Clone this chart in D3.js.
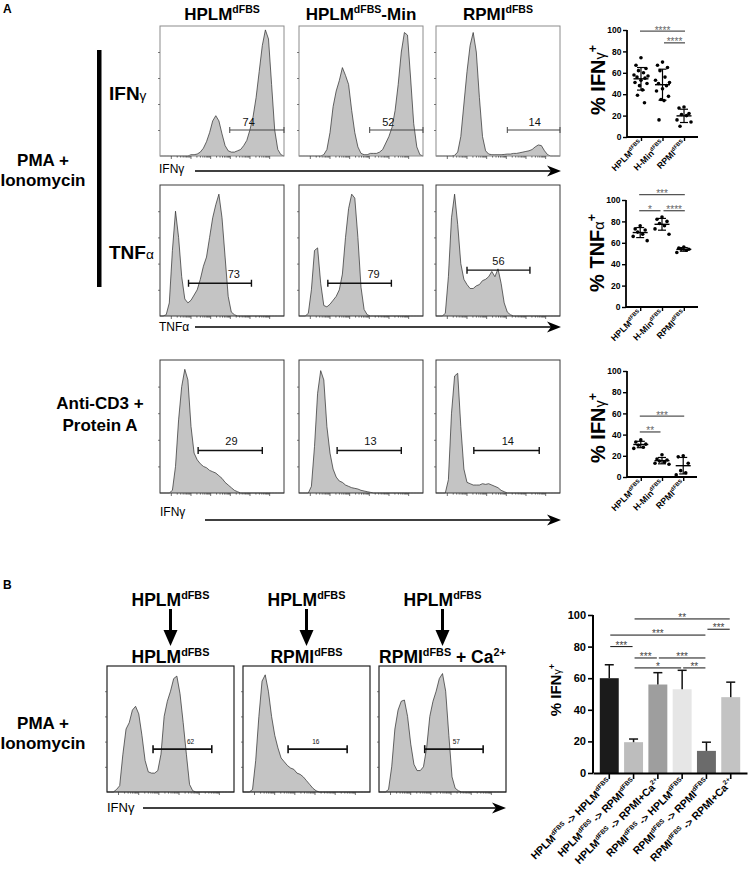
<!DOCTYPE html>
<html><head><meta charset="utf-8">
<script src="https://cdn.jsdelivr.net/npm/d3@7"></script>
<style>body{margin:0;background:#fff}svg{display:block;font-family:Arial,"Liberation Sans",sans-serif}</style>
</head><body><svg id="c" width="750" height="878"></svg>
<script>
// ---------------- DATA ----------------
// Histogram traces (fraction of max count, 41 equally spaced channels across the display range)
const histIFN_PMA_HPLM = [0,0,0,0,0,0,0,0,0,0,0.01,0.01,0.015,0.03,0.06,0.11,0.18,0.27,0.31,0.27,0.17,0.08,0.04,0.03,0.03,0.04,0.05,0.08,0.12,0.2,0.3,0.45,0.65,0.85,0.97,0.9,0.55,0.2,0.05,0.01,0];
const histIFN_PMA_HMin = [0,0,0,0,0,0,0,0,0.01,0.05,0.18,0.38,0.5,0.58,0.68,0.62,0.55,0.35,0.18,0.07,0.02,0.01,0.01,0.02,0.02,0.02,0.03,0.05,0.1,0.15,0.22,0.35,0.55,0.8,0.95,0.93,0.6,0.25,0.07,0.01,0];
const histIFN_PMA_RPMI = [0,0,0,0,0,0,0.005,0.03,0.15,0.4,0.65,0.85,0.95,0.8,0.45,0.15,0.04,0.015,0.01,0.01,0.01,0.01,0.012,0.015,0.015,0.02,0.02,0.025,0.03,0.035,0.04,0.05,0.07,0.085,0.08,0.04,0.01,0,0,0,0];
const histTNF_PMA_HPLM = [0,0,0.01,0.1,0.5,0.8,0.6,0.3,0.13,0.1,0.12,0.16,0.2,0.28,0.38,0.45,0.6,0.75,0.85,0.93,0.75,0.45,0.15,0.03,0.01,0,0,0,0,0,0,0,0,0,0,0,0,0,0,0,0];
const histTNF_PMA_HMin = [0,0,0,0.02,0.2,0.5,0.52,0.25,0.08,0.07,0.09,0.12,0.15,0.2,0.32,0.6,0.82,0.93,0.9,0.6,0.22,0.05,0.01,0,0,0,0,0,0,0,0,0,0,0,0,0,0,0,0,0,0];
const histTNF_PMA_RPMI = [0,0,0,0.02,0.3,0.75,0.93,0.7,0.4,0.28,0.24,0.21,0.21,0.23,0.24,0.27,0.28,0.3,0.34,0.3,0.36,0.25,0.1,0.03,0.01,0,0,0,0,0,0,0,0,0,0,0,0,0,0,0,0];
const histIFN_CD3_HPLM = [0,0,0,0,0.02,0.2,0.55,0.8,0.93,0.85,0.5,0.3,0.25,0.22,0.2,0.19,0.17,0.16,0.15,0.13,0.11,0.08,0.06,0.04,0.02,0.01,0,0,0,0,0,0,0,0,0,0,0,0,0,0,0];
const histIFN_CD3_HMin = [0,0,0,0,0.05,0.35,0.75,0.92,0.85,0.5,0.3,0.18,0.12,0.09,0.08,0.06,0.05,0.04,0.035,0.03,0.02,0.015,0.01,0.005,0,0,0,0,0,0,0,0,0,0,0,0,0,0,0,0,0];
const histIFN_CD3_RPMI = [0,0,0,0,0.1,0.6,0.88,0.9,0.5,0.18,0.08,0.07,0.06,0.06,0.06,0.07,0.065,0.07,0.06,0.05,0.04,0.02,0.01,0,0,0,0,0,0,0,0,0,0,0,0,0,0,0,0,0,0];
const histB_HPLM_HPLM = [0,0,0,0.02,0.05,0.3,0.5,0.55,0.65,0.68,0.62,0.45,0.25,0.16,0.15,0.15,0.17,0.3,0.6,0.72,0.8,0.9,0.92,0.78,0.55,0.3,0.06,0.01,0,0,0,0,0,0,0,0,0,0,0,0,0];
const histB_HPLM_RPMI = [0,0,0,0.02,0.25,0.6,0.88,0.93,0.8,0.6,0.45,0.35,0.27,0.24,0.21,0.19,0.18,0.15,0.14,0.12,0.09,0.06,0.03,0.01,0,0,0,0,0,0,0,0,0,0,0,0,0,0,0,0,0];
const histB_HPLM_RPMICa = [0,0,0,0.02,0.2,0.5,0.65,0.72,0.73,0.6,0.38,0.22,0.17,0.17,0.2,0.35,0.6,0.72,0.8,0.9,0.94,0.8,0.45,0.12,0.03,0.01,0,0,0,0,0,0,0,0,0,0,0,0,0,0,0];

// gates (channel range) and gated percentages
const gatesIFN_PMA = [[22.5,40],[22.8,40],[23,40]];
const pctIFN_PMA = ["74","52","14"];
const gatesTNF_PMA = [[9.2,29.5],[9.3,29.8],[10,30.3]];
const pctTNF_PMA = ["73","79","56"];
const gatesIFN_CD3 = [[12.3,33],[12.3,33],[12.2,33.3]];
const pctIFN_CD3 = ["29","13","14"];
const gatesB = [[14.5,33],[14.2,32.8],[14.4,32.8]];
const pctB = ["62","16","57"];

// dot plots (% positive per donor)
const dotCats = ["HPLM","H-Min","RPMI"];
const ifnPMA = [
  [74,67,64,62,60,58,57,56,55,53,51,50,48,44,39,32],
  [70,67,65,62,56,53,51,50,48,45,43,38,35,34,16],
  [28,27,22,21,20,16,14,10]
];
const tnfPMA = [
  [76,73,72,70,68,66,62],
  [84,82,80,78,76,73,68],
  [56,55,54,54,53,51]
];
const ifnCD3 = [
  [35,33,31,30,28,27],
  [21,17,16,15,14,13,12],
  [20,19,13,6,4,2]
];
const sigIFN_PMA = [[0,2,"****",99],[1,2,"****",88]];
const sigTNF_PMA = [[0,2,"***",105],[0,1,"*",90],[1,2,"****",90]];
const sigIFN_CD3 = [[0,2,"***",57.5],[0,1,"**",42.5]];
const yTicks = [0,20,40,60,80,100];

// bar chart panel B
const barCats = ["HH","HR","HRCa","RH","RR","RRCa"];
const barMeans = [60,19.5,56,53,14,48];
const barSD = [8.5,2,7.5,12,5.5,9.5];
const barSig = [[1,5,"**",97.5],[4,5,"***",91],[0,4,"***",87.3],[0,1,"***",80],[1,2,"***",72.8],[2,4,"***",72.8],[1,3,"*",66.5],[3,4,"**",66.5]];
const barColors = ["#1b1b1b","#bdbdbd","#9e9e9e","#e6e6e6","#6b6b6b","#c3c3c3"];
const barLabels = [
  [["HPLM"],["dFBS","sup"],[" -> HPLM"],["dFBS","sup"]],
  [["HPLM"],["dFBS","sup"],[" -> RPMI"],["dFBS","sup"]],
  [["HPLM"],["dFBS","sup"],[" -> RPMI+Ca"],["2+","sup"]],
  [["RPMI"],["dFBS","sup"],[" -> HPLM"],["dFBS","sup"]],
  [["RPMI"],["dFBS","sup"],[" -> RPMI"],["dFBS","sup"]],
  [["RPMI"],["dFBS","sup"],[" -> RPMI+Ca"],["2+","sup"]]
];
const dotLabels = [[["HPLM"],["dFBS","sup"]],[["H-Min"],["dFBS","sup"]],[["RPMI"],["dFBS","sup"]]];
const headA = [[["HPLM"],["dFBS","sup"]],[["HPLM"],["dFBS","sup"],["-Min"]],[["RPMI"],["dFBS","sup"]]];
const headBTop = [[["HPLM"],["dFBS","sup"]],[["HPLM"],["dFBS","sup"]],[["HPLM"],["dFBS","sup"]]];
const headBBot = [[["HPLM"],["dFBS","sup"]],[["RPMI"],["dFBS","sup"]],[["RPMI"],["dFBS","sup"],[" + Ca"],["2+","sup"]]];

// ---------------- DRAWING ----------------
const svg = d3.select('#c');

function rich(text, parts, size) {
  let cur = 0;
  parts.forEach(p => {
    const t = p[0], kind = p[1];
    const ts = text.append('tspan').text(t);
    let target = 0, fs = size;
    if (kind === 'sup') { target = -size * 0.42; fs = size * 0.62; }
    else if (kind === 'small') { target = 0; fs = size * 0.72; ts.attr('font-weight', 'normal'); }
    ts.attr('font-size', fs);
    if (target !== cur) ts.attr('dy', target - cur);
    cur = target;
  });
  return text;
}
function label(x, y, parts, size, opts) {
  opts = opts || {};
  const t = svg.append('text').attr('x', x).attr('y', y)
    .attr('font-size', size).attr('font-weight', opts.weight || 'bold')
    .attr('text-anchor', opts.anchor || 'start').attr('fill', opts.fill || '#000');
  if (opts.transform) t.attr('transform', opts.transform).attr('x', 0).attr('y', 0);
  return rich(t, parts, size);
}
function hArrow(x1, x2, y) {
  svg.append('line').attr('x1', x1).attr('x2', x2 - 8).attr('y1', y).attr('y2', y)
    .attr('stroke', '#000').attr('stroke-width', 1.6);
  svg.append('path').attr('d', `M${x2},${y} L${x2-14},${y-5.5} L${x2-10},${y} L${x2-14},${y+5.5} Z`).attr('fill', '#000');
}

function hist(x0, y0, w, h, vals, gate, pct, st) {
  const g = svg.append('g');
  const x = d3.scaleLinear().domain([0, vals.length - 1]).range([x0, x0 + w]);
  const y = d3.scaleLinear().domain([0, 1]).range([y0 + h, y0]);
  g.append('path').datum(vals).attr('d', d3.area().x((d, i) => x(i)).y0(y(0)).y1(d => y(d)))
    .attr('fill', '#c4c4c4');
  g.append('path').datum(vals).attr('d', d3.line().x((d, i) => x(i)).y(d => y(d)))
    .attr('fill', 'none').attr('stroke', '#2a2a2a').attr('stroke-width', 0.7);
  g.append('rect').attr('x', x0).attr('y', y0).attr('width', w).attr('height', h)
    .attr('fill', 'none').attr('stroke', st.frame).attr('stroke-width', st.fw);
  const lx = d3.scaleLog().domain([0.4, 4e5]).range([x0 + 3, x0 + w - 3]);
  const minor = [], major = [];
  for (let d = 0; d <= 5; d++) { major.push(Math.pow(10, d)); for (let k = 2; k <= 9; k++) if (d < 5) minor.push(k * Math.pow(10, d)); }
  const bx = g.append('g').attr('transform', `translate(0,${y0 + h})`);
  bx.call(d3.axisBottom(lx).tickValues(minor).tickSize(1.6).tickFormat('')).call(s => s.select('.domain').remove());
  bx.append('g').call(d3.axisBottom(lx).tickValues(major).tickSize(3).tickFormat('')).call(s => s.select('.domain').remove());
  bx.selectAll('line').attr('stroke', '#333').attr('stroke-width', 0.7);
  const ly = g.append('g').attr('transform', `translate(${x0},0)`)
    .call(d3.axisLeft(y).tickValues([0.2, 0.4, 0.6, 0.8]).tickSize(2).tickFormat(''))
    .call(s => s.select('.domain').remove());
  ly.selectAll('line').attr('stroke', '#444').attr('stroke-width', 0.7);
  const gy = y(st.gy), ga = x(gate[0]), gb = x(gate[1]);
  g.append('line').attr('x1', ga).attr('x2', gb).attr('y1', gy).attr('y2', gy)
    .attr('stroke', st.gc).attr('stroke-width', st.gw);
  [ga, gb].forEach(xx => g.append('line').attr('x1', xx).attr('x2', xx).attr('y1', gy - st.cap / 2).attr('y2', gy + st.cap / 2)
    .attr('stroke', st.gc).attr('stroke-width', st.gw));
  g.append('text').attr('x', ga + (gb - ga) * st.lp).attr('y', gy - st.ld).attr('text-anchor', 'middle')
    .attr('font-size', st.lf).attr('fill', '#111').text(pct);
}

// ---- Panel A ----
svg.append('text').attr('x', 3).attr('y', 13).attr('font-size', 12).attr('font-weight', 'bold').text('A');
const colX = [160, 299, 436], colW = 124;
headA.forEach((p, i) => label(colX[i] + colW / 2, 20, p, 17, { anchor: 'middle' }));

const rowA = [
  { y0: 26, h: 130, data: [histIFN_PMA_HPLM, histIFN_PMA_HMin, histIFN_PMA_RPMI], gates: gatesIFN_PMA, pct: pctIFN_PMA,
    st: { frame: '#8c8c8c', fw: 1, gc: '#444', gw: 1, cap: 6, gy: 0.2, ld: 4, lf: 11, lp: 0.35 } },
  { y0: 185, h: 131, data: [histTNF_PMA_HPLM, histTNF_PMA_HMin, histTNF_PMA_RPMI], gates: gatesTNF_PMA, pct: pctTNF_PMA,
    st: { frame: '#3a3a3a', fw: 1, gc: '#111', gw: 1.4, cap: 7, gy: null, ld: 5, lf: 11, lp: 0.72 } },
  { y0: 360, h: 133, data: [histIFN_CD3_HPLM, histIFN_CD3_HMin, histIFN_CD3_RPMI], gates: gatesIFN_CD3, pct: pctIFN_CD3,
    st: { frame: '#3a3a3a', fw: 1, gc: '#111', gw: 1.4, cap: 7, gy: 0.32, ld: 5, lf: 11, lp: 0.52 } }
];
const tnfGateY = [0.25, 0.25, 0.35];
rowA.forEach((r, ri) => {
  r.data.forEach((vals, i) => {
    const st = Object.assign({}, r.st);
    if (ri === 1) { st.gy = tnfGateY[i]; if (i === 2) st.lp = 0.5; }
    if (ri === 0 && i === 2) st.lp = 0.52;
    hist(colX[i], r.y0, colW, r.h, vals, r.gates[i], r.pct[i], st);
  });
});
label(159, 173, [["IFN"], ["γ"]], 12, { weight: 'normal' });
hArrow(195, 561, 171);
label(159, 331, [["TNF"], ["α"]], 12, { weight: 'normal' });
hArrow(195, 561, 327);
label(160, 516, [["IFN"], ["γ"]], 12, { weight: 'normal' });
hArrow(205, 561, 520);
label(109, 100, [["IFN"], ["γ", "small"]], 19);
label(109, 259, [["TNF"], ["α", "small"]], 19);
svg.append('rect').attr('x', 97).attr('y', 50).attr('width', 4.5).attr('height', 237).attr('fill', '#000');
label(43, 166, [["PMA +"]], 17, { anchor: 'middle' });
label(43, 186, [["Ionomycin"]], 17, { anchor: 'middle' });
label(100, 409, [["Anti-CD3 +"]], 17, { anchor: 'middle' });
label(100, 431, [["Protein A"]], 17, { anchor: 'middle' });

// ---- dot plots ----
function dotPlot(ax, y0p, y100p, xEnd, groups, sigs, ylabParts, labCY) {
  const y = d3.scaleLinear().domain([0, 100]).range([y0p, y100p]);
  const x = d3.scalePoint().domain(dotCats).range([ax, xEnd]).padding(0.65);
  const g = svg.append('g');
  const yA = g.append('g').attr('transform', `translate(${ax},0)`)
    .call(d3.axisLeft(y).tickValues(yTicks).tickSize(4).tickSizeOuter(0).tickPadding(1.5));
  yA.selectAll('text').attr('font-size', 8.5).attr('font-weight', 'bold').attr('font-family', 'Arial, "Liberation Sans", sans-serif').attr('fill', '#000');
  const xA = g.append('g').attr('transform', `translate(0,${y0p})`)
    .call(d3.axisBottom(x).tickSize(4).tickSizeOuter(0).tickFormat(''));
  [yA, xA].forEach(a => { a.select('.domain').attr('stroke-width', 1.8).attr('stroke', '#000'); a.selectAll('line').attr('stroke-width', 1.4).attr('stroke', '#000'); });
  xA.select('.domain').attr('d', `M${ax},0H${xEnd}`);
  yA.select('.domain').attr('d', `M0,${y0p}V${y100p}`);
  dotCats.forEach((c, i) => {
    label(0, 0, dotLabels[i], 8.8, { anchor: 'end', transform: `translate(${x(c) + 2},${y0p + 7}) rotate(-45)` });
  });
  const offs = [0, -5, 5, -2.5, 2.5, -7, 7, -4, 4, 0, -6, 6, -1.5, 1.5, -3.5, 3.5];
  groups.forEach((vals, gi) => {
    const cx = x(dotCats[gi]);
    const m = d3.mean(vals), sd = d3.deviation(vals);
    vals.forEach((v, k) => g.append('circle').attr('cx', cx + offs[k % offs.length]).attr('cy', y(v)).attr('r', 1.8).attr('fill', '#000'));
    g.append('line').attr('x1', cx).attr('x2', cx).attr('y1', y(m - sd)).attr('y2', y(m + sd)).attr('stroke', '#000').attr('stroke-width', 1.2);
    [m - sd, m + sd].forEach(v => g.append('line').attr('x1', cx - 4).attr('x2', cx + 4).attr('y1', y(v)).attr('y2', y(v)).attr('stroke', '#000').attr('stroke-width', 1.2));
    g.append('line').attr('x1', cx - 7.5).attr('x2', cx + 7.5).attr('y1', y(m)).attr('y2', y(m)).attr('stroke', '#000').attr('stroke-width', 1.4);
  });
  sigs.forEach(s => {
    const x1 = x(dotCats[s[0]]) + (s[0] === 1 ? 1.5 : -1), x2 = x(dotCats[s[1]]) + (s[1] === 1 ? -1.5 : 1);
    const yy = y(s[3]);
    g.append('line').attr('x1', x1).attr('x2', x2).attr('y1', yy).attr('y2', yy).attr('stroke', '#555').attr('stroke-width', 1.3);
    g.append('text').attr('x', (x1 + x2) / 2).attr('y', yy + 2.5).attr('text-anchor', 'middle').attr('font-size', 10).attr('fill', '#666').text(s[2]);
  });
  label(0, 0, ylabParts, 20, { anchor: 'middle', transform: `translate(${ax - 22},${labCY}) rotate(-90)` });
}
const ylabIFN = [["% IFN"], ["γ", "small"], ["+", "sup"]];
const ylabTNF = [["% TNF"], ["α", "small"], ["+", "sup"]];
dotPlot(627, 137, 30, 698, ifnPMA, sigIFN_PMA, ylabIFN, 80);
dotPlot(626, 307, 200, 698, tnfPMA, sigTNF_PMA, ylabTNF, 253);
dotPlot(627, 477, 371, 697, ifnCD3, sigIFN_CD3, ylabIFN, 428);

// ---- Panel B ----
svg.append('text').attr('x', 3).attr('y', 589).attr('font-size', 12).attr('font-weight', 'bold').text('B');
const colBX = [107, 243, 379], colBW = 127;
headBTop.forEach((p, i) => {
  const cx = colBX[i] + colBW / 2;
  label(cx, 606, p, 17.5, { anchor: 'middle' });
  svg.append('line').attr('x1', cx).attr('x2', cx).attr('y1', 609).attr('y2', 634).attr('stroke', '#000').attr('stroke-width', 3);
  svg.append('path').attr('d', `M${cx - 7},${630} L${cx + 7},${630} L${cx},${646} Z`).attr('fill', '#000');
  label(cx, 663, headBBot[i], 17.5, { anchor: 'middle' });
});
[histB_HPLM_HPLM, histB_HPLM_RPMI, histB_HPLM_RPMICa].forEach((vals, i) => {
  hist(colBX[i], 666, colBW, 126, vals, gatesB[i], pctB[i],
    { frame: '#222', fw: 1.2, gc: '#111', gw: 1.6, cap: 8, gy: 0.34, ld: 5, lf: 6.5, lp: [0.64, 0.47, 0.54][i] });
});
label(107, 812, [["IFN"], ["γ"]], 13, { weight: 'normal' });
hArrow(143, 506, 808);
label(43, 729, [["PMA +"]], 17, { anchor: 'middle' });
label(43, 749, [["Ionomycin"]], 17, { anchor: 'middle' });

// bar chart
(function () {
  const y = d3.scaleLinear().domain([0, 100]).range([773, 615]);
  const x = d3.scaleBand().domain(barCats).range([593, 747]).paddingInner(0.22).paddingOuter(0.28);
  const g = svg.append('g');
  g.selectAll('rect.bar').data(barMeans).enter().append('rect')
    .attr('x', (d, i) => x(barCats[i])).attr('width', x.bandwidth())
    .attr('y', d => y(d)).attr('height', d => y(0) - y(d)).attr('fill', (d, i) => barColors[i]);
  barMeans.forEach((m, i) => {
    const cx = x(barCats[i]) + x.bandwidth() / 2;
    g.append('line').attr('x1', cx).attr('x2', cx).attr('y1', y(m)).attr('y2', y(m + barSD[i])).attr('stroke', '#111').attr('stroke-width', 1.5);
    g.append('line').attr('x1', cx - 4.5).attr('x2', cx + 4.5).attr('y1', y(m + barSD[i])).attr('y2', y(m + barSD[i])).attr('stroke', '#111').attr('stroke-width', 1.5);
  });
  const yA = g.append('g').attr('transform', 'translate(593,0)')
    .call(d3.axisLeft(y).tickValues(yTicks).tickSize(5).tickSizeOuter(0).tickPadding(2));
  yA.selectAll('text').attr('font-size', 11).attr('font-weight', 'bold').attr('font-family', 'Arial, "Liberation Sans", sans-serif').attr('fill', '#000');
  const xA = g.append('g').attr('transform', 'translate(0,773)')
    .call(d3.axisBottom(x).tickSize(6).tickSizeOuter(0).tickFormat(''));
  [yA, xA].forEach(a => { a.select('.domain').attr('stroke-width', 2).attr('stroke', '#000'); a.selectAll('line').attr('stroke-width', 1.6).attr('stroke', '#000'); });
  yA.select('.domain').attr('d', 'M0,773V615');
  barCats.forEach((c, i) => {
    const cx = x(c) + x.bandwidth() / 2;
    label(0, 0, barLabels[i], 10.5, { anchor: 'end', transform: `translate(${cx + 3},${783}) rotate(-45)` });
  });
  barSig.forEach(s => {
    const x1 = x(barCats[s[0]]) + x.bandwidth() / 2 + 1, x2 = x(barCats[s[1]]) + x.bandwidth() / 2 - 1;
    const yy = y(s[3]);
    g.append('line').attr('x1', x1).attr('x2', x2).attr('y1', yy).attr('y2', yy).attr('stroke', '#111').attr('stroke-width', 1);
    g.append('text').attr('x', (x1 + x2) / 2).attr('y', yy + 2).attr('text-anchor', 'middle').attr('font-size', 10).attr('fill', '#444').text(s[2]);
  });
  label(0, 0, [["% IFN"], ["γ", "small"], ["+", "sup"]], 15, { anchor: 'middle', transform: `translate(561,690) rotate(-90)` });
})();
</script></body></html>
